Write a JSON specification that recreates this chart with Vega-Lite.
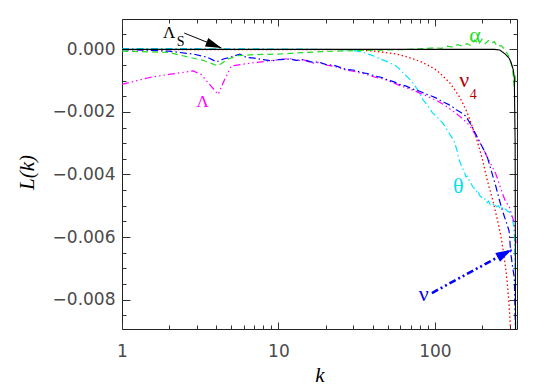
{
  "$schema": "https://vega.github.io/schema/vega-lite/v6.json",
  "width": 395,
  "height": 310,
  "autosize": {"type": "none"},
  "padding": {"left": 122, "top": 19, "right": 28, "bottom": 60},
  "background": "white",
  "config": {
    "view": {"stroke": "#222", "strokeWidth": 1},
    "axis": {
      "domain": false,
      "grid": false,
      "labelFont": "DejaVu Sans",
      "labelFontSize": 17,
      "labelColor": "#4a4a4a",
      "tickColor": "#333",
      "tickWidth": 1,
      "labelFlush": false,
      "labelOverlap": false,
      "labelBound": false,
      "titleFont": "Liberation Serif",
      "titleFontStyle": "italic",
      "titleFontWeight": "normal",
      "titleFontSize": 21,
      "titleColor": "#000"
    }
  },
  "data": {
    "values": [
      {"s": "red", "k": 1, "L": -0.00001}, {"s": "red", "k": 30, "L": -0.00001}, {"s": "red", "k": 40, "L": -0.00005},
      {"s": "red", "k": 48, "L": -0.0001}, {"s": "red", "k": 56.5, "L": -0.00015}, {"s": "red", "k": 64, "L": -0.00022},
      {"s": "red", "k": 72, "L": -0.0003}, {"s": "red", "k": 82, "L": -0.0004}, {"s": "red", "k": 92, "L": -0.00053},
      {"s": "red", "k": 100, "L": -0.00063}, {"s": "red", "k": 106.6, "L": -0.00074}, {"s": "red", "k": 115, "L": -0.0009},
      {"s": "red", "k": 124, "L": -0.00106}, {"s": "red", "k": 133, "L": -0.00127}, {"s": "red", "k": 143, "L": -0.0015},
      {"s": "red", "k": 150, "L": -0.0017}, {"s": "red", "k": 158, "L": -0.00193}, {"s": "red", "k": 164, "L": -0.00213},
      {"s": "red", "k": 170, "L": -0.00235}, {"s": "red", "k": 183, "L": -0.0028}, {"s": "red", "k": 192, "L": -0.00315},
      {"s": "red", "k": 202, "L": -0.00354}, {"s": "red", "k": 212, "L": -0.004}, {"s": "red", "k": 222, "L": -0.0044},
      {"s": "red", "k": 234, "L": -0.0048}, {"s": "red", "k": 246, "L": -0.00526}, {"s": "red", "k": 255, "L": -0.0056},
      {"s": "red", "k": 265, "L": -0.006}, {"s": "red", "k": 275, "L": -0.0065}, {"s": "red", "k": 285, "L": -0.00709},
      {"s": "red", "k": 292, "L": -0.0076}, {"s": "red", "k": 298, "L": -0.00816}, {"s": "red", "k": 302, "L": -0.0086},
      {"s": "red", "k": 306, "L": -0.0092},

      {"s": "cyan", "k": 1, "L": 0.00002}, {"s": "cyan", "k": 3, "L": 0.00002}, {"s": "cyan", "k": 10, "L": 0.00001},
      {"s": "cyan", "k": 20, "L": 0}, {"s": "cyan", "k": 28, "L": -0.00002}, {"s": "cyan", "k": 31.5, "L": -0.00005},
      {"s": "cyan", "k": 35, "L": -0.0001}, {"s": "cyan", "k": 38, "L": -0.00016}, {"s": "cyan", "k": 41, "L": -0.00022},
      {"s": "cyan", "k": 44.4, "L": -0.0003}, {"s": "cyan", "k": 50, "L": -0.0004}, {"s": "cyan", "k": 56.5, "L": -0.00053},
      {"s": "cyan", "k": 60, "L": -0.00065}, {"s": "cyan", "k": 64, "L": -0.0008}, {"s": "cyan", "k": 68, "L": -0.00092},
      {"s": "cyan", "k": 72, "L": -0.00106}, {"s": "cyan", "k": 78, "L": -0.0013}, {"s": "cyan", "k": 83.6, "L": -0.0016},
      {"s": "cyan", "k": 90, "L": -0.0018}, {"s": "cyan", "k": 96.6, "L": -0.00203}, {"s": "cyan", "k": 105, "L": -0.0022},
      {"s": "cyan", "k": 112, "L": -0.00235}, {"s": "cyan", "k": 118, "L": -0.00252}, {"s": "cyan", "k": 124, "L": -0.0027},
      {"s": "cyan", "k": 132, "L": -0.0029}, {"s": "cyan", "k": 138, "L": -0.0032}, {"s": "cyan", "k": 143, "L": -0.00354},
      {"s": "cyan", "k": 150, "L": -0.0038}, {"s": "cyan", "k": 154, "L": -0.0039}, {"s": "cyan", "k": 158, "L": -0.00408},
      {"s": "cyan", "k": 162, "L": -0.00405}, {"s": "cyan", "k": 166, "L": -0.0042}, {"s": "cyan", "k": 170, "L": -0.00428},
      {"s": "cyan", "k": 175, "L": -0.0044}, {"s": "cyan", "k": 180, "L": -0.00445}, {"s": "cyan", "k": 184, "L": -0.00455},
      {"s": "cyan", "k": 188, "L": -0.0045}, {"s": "cyan", "k": 193, "L": -0.00467}, {"s": "cyan", "k": 198, "L": -0.00472},
      {"s": "cyan", "k": 203, "L": -0.0048}, {"s": "cyan", "k": 209, "L": -0.00478}, {"s": "cyan", "k": 215, "L": -0.0049},
      {"s": "cyan", "k": 220, "L": -0.00485}, {"s": "cyan", "k": 226, "L": -0.00497}, {"s": "cyan", "k": 233, "L": -0.005},
      {"s": "cyan", "k": 240, "L": -0.00492}, {"s": "cyan", "k": 247, "L": -0.00503}, {"s": "cyan", "k": 255, "L": -0.005},
      {"s": "cyan", "k": 262, "L": -0.0051}, {"s": "cyan", "k": 268, "L": -0.00505}, {"s": "cyan", "k": 275, "L": -0.00513},
      {"s": "cyan", "k": 283, "L": -0.0051}, {"s": "cyan", "k": 292, "L": -0.00518}, {"s": "cyan", "k": 300, "L": -0.0052},
      {"s": "cyan", "k": 306, "L": -0.0053}, {"s": "cyan", "k": 311, "L": -0.00537}, {"s": "cyan", "k": 318, "L": -0.0056},
      {"s": "cyan", "k": 322, "L": -0.0059}, {"s": "cyan", "k": 326, "L": -0.007}, {"s": "cyan", "k": 329, "L": -0.0095},

      {"s": "mag", "k": 1, "L": -0.00112}, {"s": "mag", "k": 1.5, "L": -0.0009}, {"s": "mag", "k": 2, "L": -0.0008},
      {"s": "mag", "k": 2.85, "L": -0.00069}, {"s": "mag", "k": 3.2, "L": -0.0008}, {"s": "mag", "k": 3.6, "L": -0.0011},
      {"s": "mag", "k": 4.12, "L": -0.00144}, {"s": "mag", "k": 4.5, "L": -0.001}, {"s": "mag", "k": 5.0, "L": -0.00053},
      {"s": "mag", "k": 6, "L": -0.00047}, {"s": "mag", "k": 7.2, "L": -0.00042}, {"s": "mag", "k": 9, "L": -0.00036},
      {"s": "mag", "k": 11.8, "L": -0.00029}, {"s": "mag", "k": 13, "L": -0.00036}, {"s": "mag", "k": 14.5, "L": -0.00034},
      {"s": "mag", "k": 16.6, "L": -0.00044}, {"s": "mag", "k": 18, "L": -0.00042}, {"s": "mag", "k": 20, "L": -0.0005},
      {"s": "mag", "k": 23, "L": -0.00055}, {"s": "mag", "k": 27, "L": -0.00066}, {"s": "mag", "k": 30, "L": -0.0007},
      {"s": "mag", "k": 35, "L": -0.00078}, {"s": "mag", "k": 38, "L": -0.00083}, {"s": "mag", "k": 42, "L": -0.0009},
      {"s": "mag", "k": 46, "L": -0.00094}, {"s": "mag", "k": 50, "L": -0.001}, {"s": "mag", "k": 55, "L": -0.00108},
      {"s": "mag", "k": 59.4, "L": -0.00115}, {"s": "mag", "k": 65, "L": -0.00122}, {"s": "mag", "k": 70, "L": -0.00128},
      {"s": "mag", "k": 75, "L": -0.00133}, {"s": "mag", "k": 80, "L": -0.0014}, {"s": "mag", "k": 85, "L": -0.00145},
      {"s": "mag", "k": 90, "L": -0.0015}, {"s": "mag", "k": 95, "L": -0.00157}, {"s": "mag", "k": 101.6, "L": -0.00162},
      {"s": "mag", "k": 108, "L": -0.0017}, {"s": "mag", "k": 115, "L": -0.00178}, {"s": "mag", "k": 122, "L": -0.00187},
      {"s": "mag", "k": 130, "L": -0.00197}, {"s": "mag", "k": 137, "L": -0.00205}, {"s": "mag", "k": 145, "L": -0.00215},
      {"s": "mag", "k": 152, "L": -0.00224}, {"s": "mag", "k": 158, "L": -0.00232}, {"s": "mag", "k": 164, "L": -0.0024},
      {"s": "mag", "k": 170, "L": -0.0025}, {"s": "mag", "k": 180, "L": -0.0027}, {"s": "mag", "k": 193, "L": -0.00297},
      {"s": "mag", "k": 205, "L": -0.0032}, {"s": "mag", "k": 216, "L": -0.00345}, {"s": "mag", "k": 230, "L": -0.0037},
      {"s": "mag", "k": 246, "L": -0.004}, {"s": "mag", "k": 258, "L": -0.0043}, {"s": "mag", "k": 270, "L": -0.0046},
      {"s": "mag", "k": 285, "L": -0.0049}, {"s": "mag", "k": 298, "L": -0.005}, {"s": "mag", "k": 310, "L": -0.0053},
      {"s": "mag", "k": 320, "L": -0.0055}, {"s": "mag", "k": 326, "L": -0.0058}, {"s": "mag", "k": 330, "L": -0.0062},

      {"s": "blue", "k": 1, "L": -0.00001}, {"s": "blue", "k": 1.5, "L": -0.00003}, {"s": "blue", "k": 2, "L": -0.00006},
      {"s": "blue", "k": 2.85, "L": -0.00015}, {"s": "blue", "k": 3.5, "L": -0.00025}, {"s": "blue", "k": 4.02, "L": -0.0004},
      {"s": "blue", "k": 4.5, "L": -0.0003}, {"s": "blue", "k": 4.89, "L": -0.00026}, {"s": "blue", "k": 5.66, "L": -0.00015},
      {"s": "blue", "k": 6.25, "L": -0.00026}, {"s": "blue", "k": 7, "L": -0.00028}, {"s": "blue", "k": 8, "L": -0.00033},
      {"s": "blue", "k": 9, "L": -0.00037}, {"s": "blue", "k": 10, "L": -0.00033}, {"s": "blue", "k": 11.8, "L": -0.00031},
      {"s": "blue", "k": 13, "L": -0.00035}, {"s": "blue", "k": 14.5, "L": -0.00033}, {"s": "blue", "k": 16.6, "L": -0.00042},
      {"s": "blue", "k": 18, "L": -0.0004}, {"s": "blue", "k": 20, "L": -0.00048}, {"s": "blue", "k": 23, "L": -0.00052},
      {"s": "blue", "k": 27, "L": -0.00064}, {"s": "blue", "k": 30, "L": -0.00066}, {"s": "blue", "k": 35, "L": -0.00075},
      {"s": "blue", "k": 38, "L": -0.00079}, {"s": "blue", "k": 42, "L": -0.00086}, {"s": "blue", "k": 46, "L": -0.0009},
      {"s": "blue", "k": 50, "L": -0.00098}, {"s": "blue", "k": 55, "L": -0.00104}, {"s": "blue", "k": 59.4, "L": -0.00112},
      {"s": "blue", "k": 65, "L": -0.00117}, {"s": "blue", "k": 70, "L": -0.00124}, {"s": "blue", "k": 75, "L": -0.0013},
      {"s": "blue", "k": 80, "L": -0.00134}, {"s": "blue", "k": 85, "L": -0.0014}, {"s": "blue", "k": 90, "L": -0.00145},
      {"s": "blue", "k": 95, "L": -0.00149}, {"s": "blue", "k": 101.6, "L": -0.00155}, {"s": "blue", "k": 108, "L": -0.00163},
      {"s": "blue", "k": 115, "L": -0.0017}, {"s": "blue", "k": 122, "L": -0.00176}, {"s": "blue", "k": 130, "L": -0.00184},
      {"s": "blue", "k": 137, "L": -0.00193}, {"s": "blue", "k": 145, "L": -0.002}, {"s": "blue", "k": 152, "L": -0.00207},
      {"s": "blue", "k": 158, "L": -0.00214}, {"s": "blue", "k": 164, "L": -0.00228}, {"s": "blue", "k": 170, "L": -0.0024},
      {"s": "blue", "k": 180, "L": -0.00265}, {"s": "blue", "k": 193, "L": -0.00295}, {"s": "blue", "k": 205, "L": -0.0032},
      {"s": "blue", "k": 216, "L": -0.00343}, {"s": "blue", "k": 230, "L": -0.0039}, {"s": "blue", "k": 246, "L": -0.0044},
      {"s": "blue", "k": 258, "L": -0.0048}, {"s": "blue", "k": 270, "L": -0.00515}, {"s": "blue", "k": 285, "L": -0.0055},
      {"s": "blue", "k": 298, "L": -0.0058}, {"s": "blue", "k": 306, "L": -0.00654}, {"s": "blue", "k": 315, "L": -0.007},
      {"s": "blue", "k": 322, "L": -0.0073}, {"s": "blue", "k": 326, "L": -0.0085}, {"s": "blue", "k": 330, "L": -0.0095},

      {"s": "green", "k": 1, "L": -0.00006}, {"s": "green", "k": 1.5, "L": -0.00008}, {"s": "green", "k": 2, "L": -0.0001},
      {"s": "green", "k": 2.72, "L": -0.00026}, {"s": "green", "k": 3.3, "L": -0.00035}, {"s": "green", "k": 4.1, "L": -0.00053},
      {"s": "green", "k": 4.77, "L": -0.00031}, {"s": "green", "k": 5.5, "L": -0.0002}, {"s": "green", "k": 7, "L": -0.00017},
      {"s": "green", "k": 10, "L": -0.00015}, {"s": "green", "k": 15, "L": -0.0001}, {"s": "green", "k": 20, "L": -0.00007},
      {"s": "green", "k": 30, "L": -0.00004}, {"s": "green", "k": 50, "L": -0.00002}, {"s": "green", "k": 70, "L": 0},
      {"s": "green", "k": 90, "L": 0.00003}, {"s": "green", "k": 100, "L": 0.00005}, {"s": "green", "k": 110, "L": 0.00003},
      {"s": "green", "k": 120, "L": 0.0001}, {"s": "green", "k": 130, "L": 0.00007}, {"s": "green", "k": 140, "L": 0.00015},
      {"s": "green", "k": 150, "L": 0.0001}, {"s": "green", "k": 160, "L": 0.00018}, {"s": "green", "k": 170, "L": 0.00012},
      {"s": "green", "k": 180, "L": 0.0003}, {"s": "green", "k": 190, "L": 0.00015}, {"s": "green", "k": 200, "L": 0.00032},
      {"s": "green", "k": 210, "L": 0.00018}, {"s": "green", "k": 220, "L": 0.00028}, {"s": "green", "k": 230, "L": 0.0002},
      {"s": "green", "k": 240, "L": 0.00025}, {"s": "green", "k": 250, "L": 0.0001}, {"s": "green", "k": 265, "L": 0.00012},
      {"s": "green", "k": 280, "L": 0}, {"s": "green", "k": 295, "L": -0.0002}, {"s": "green", "k": 305, "L": -0.0004},
      {"s": "green", "k": 313, "L": -0.0006}, {"s": "green", "k": 318, "L": -0.0009}, {"s": "green", "k": 322, "L": -0.0012},
      {"s": "green", "k": 326, "L": -0.0008}, {"s": "green", "k": 328, "L": -0.0011},

      {"s": "black", "k": 1, "L": 0}, {"s": "black", "k": 240, "L": 0}, {"s": "black", "k": 260, "L": -0.00002},
      {"s": "black", "k": 282, "L": -0.00015}, {"s": "black", "k": 300, "L": -0.0003}, {"s": "black", "k": 307, "L": -0.00042},
      {"s": "black", "k": 317, "L": -0.00065}, {"s": "black", "k": 322, "L": -0.0009}, {"s": "black", "k": 326, "L": -0.003},
      {"s": "black", "k": 328, "L": -0.0095}
    ]
  },
  "datasets": {
    "labels": [
      {"id": "LS", "kind": "upper", "t": "Λ", "k": 2.0, "L": 0.00052},
      {"id": "LS", "kind": "sub", "t": "S", "k": 2.37, "L": 0.00024},
      {"id": "alpha", "kind": "lower", "t": "α", "k": 180.3, "L": 0.00047},
      {"id": "nu4", "kind": "lower", "t": "ν", "k": 154, "L": -0.00098},
      {"id": "nu4", "kind": "sub", "t": "4", "k": 176, "L": -0.00146},
      {"id": "Lambda", "kind": "upper", "t": "Λ", "k": 3.283, "L": -0.00167},
      {"id": "theta", "kind": "lower", "t": "θ", "k": 140.9, "L": -0.00438},
      {"id": "nu", "kind": "lower", "t": "ν", "k": 85.0, "L": -0.00781}
    ],
    "arrows": [
      {"id": "LS", "k": 2.5, "L": 0.00052, "k2": 4.323, "L2": 0.000043},
      {"id": "nu", "k": 95.7, "L": -0.00779, "k2": 309.4, "L2": -0.006406}
    ]
  },
  "resolve": {"axis": {"x": "independent", "y": "independent"}},
  "layer": [
    {
      "transform": [{"filter": "datum.s == 'red'"}],
      "mark": {"type": "line", "clip": true, "color": "#ff0000", "strokeWidth": 1.3, "strokeDash": [1.5, 2.5]},
      "encoding": {
        "x": {"field": "k", "type": "quantitative", "scale": {"type": "log", "domain": [1, 335], "nice": false},
          "axis": {"orient": "bottom", "title": "k",
            "values": [1, 2, 3, 4, 5, 6, 7, 8, 9, 10, 20, 30, 40, 50, 60, 70, 80, 90, 100, 200, 300],
            "labelExpr": "(datum.value == 1 || datum.value == 10 || datum.value == 100) ? format(datum.value, 'd') : ''",
            "tickSize": {"condition": {"test": "datum.value == 1 || datum.value == 10 || datum.value == 100", "value": -7}, "value": -4},
            "labelPadding": 21, "titleX": 197.5, "titleY": 46, "titleBaseline": "middle", "titleAlign": "center"}},
        "y": {"field": "L", "type": "quantitative", "scale": {"domain": [-0.00894, 0.00097], "nice": false, "zero": false},
          "axis": {"orient": "left", "title": "L(k)",
            "values": [-0.0085, -0.008, -0.0075, -0.007, -0.0065, -0.006, -0.0055, -0.005, -0.0045, -0.004, -0.0035, -0.003, -0.0025, -0.002, -0.0015, -0.001, -0.0005, 0, 0.0005],
            "labelExpr": "abs(round(datum.value * 2000)) % 4 == 0 ? format(datum.value, '.3f') : ''",
            "tickSize": {"condition": {"test": "abs(round(datum.value * 2000)) % 4 == 0", "value": -8}, "value": -4},
            "labelPadding": 15, "titleX": -95, "titleY": 153, "titleAngle": -90, "titleBaseline": "middle", "titleAlign": "center"}}
      }
    },
    {
      "transform": [{"filter": "datum.s == 'cyan'"}],
      "mark": {"type": "line", "clip": true, "color": "#00e5ff", "strokeWidth": 1.2, "strokeDash": [7, 3, 1.5, 3]},
      "encoding": {
        "x": {"field": "k", "type": "quantitative", "scale": {"type": "log", "domain": [1, 335], "nice": false}, "axis": null},
        "y": {"field": "L", "type": "quantitative", "scale": {"domain": [-0.00894, 0.00097], "nice": false, "zero": false}, "axis": null}
      }
    },
    {
      "transform": [{"filter": "datum.s == 'mag'"}],
      "mark": {"type": "line", "clip": true, "color": "#ff00ff", "strokeWidth": 1.2, "strokeDash": [7, 3, 1.5, 3, 1.5, 3, 1.5, 3]},
      "encoding": {
        "x": {"field": "k", "type": "quantitative", "scale": {"type": "log", "domain": [1, 335], "nice": false}, "axis": null},
        "y": {"field": "L", "type": "quantitative", "scale": {"domain": [-0.00894, 0.00097], "nice": false, "zero": false}, "axis": null}
      }
    },
    {
      "transform": [{"filter": "datum.s == 'blue'"}],
      "mark": {"type": "line", "clip": true, "color": "#0000ff", "strokeWidth": 1.2, "strokeDash": [7, 3, 1.5, 3]},
      "encoding": {
        "x": {"field": "k", "type": "quantitative", "scale": {"type": "log", "domain": [1, 335], "nice": false}, "axis": null},
        "y": {"field": "L", "type": "quantitative", "scale": {"domain": [-0.00894, 0.00097], "nice": false, "zero": false}, "axis": null}
      }
    },
    {
      "transform": [{"filter": "datum.s == 'green'"}],
      "mark": {"type": "line", "clip": true, "color": "#22dd22", "strokeWidth": 1.2, "strokeDash": [6, 4]},
      "encoding": {
        "x": {"field": "k", "type": "quantitative", "scale": {"type": "log", "domain": [1, 335], "nice": false}, "axis": null},
        "y": {"field": "L", "type": "quantitative", "scale": {"domain": [-0.00894, 0.00097], "nice": false, "zero": false}, "axis": null}
      }
    },
    {
      "transform": [{"filter": "datum.s == 'black'"}],
      "mark": {"type": "line", "clip": true, "color": "#000000", "strokeWidth": 1.1},
      "encoding": {
        "x": {"field": "k", "type": "quantitative", "scale": {"type": "log", "domain": [1, 335], "nice": false}, "axis": null},
        "y": {"field": "L", "type": "quantitative", "scale": {"domain": [-0.00894, 0.00097], "nice": false, "zero": false}, "axis": null}
      }
    },
    {
      "transform": [{"filter": "datum.s == 'black'"}],
      "mark": {"type": "point", "opacity": 0},
      "encoding": {
        "x": {"field": "k", "type": "quantitative", "scale": {"type": "log", "domain": [1, 335], "nice": false},
          "axis": {"orient": "top", "title": null, "labels": false,
            "values": [1, 2, 3, 4, 5, 6, 7, 8, 9, 10, 20, 30, 40, 50, 60, 70, 80, 90, 100, 200, 300],
            "tickSize": {"condition": {"test": "datum.value == 1 || datum.value == 10 || datum.value == 100", "value": -7}, "value": -4}}},
        "y": {"field": "L", "type": "quantitative", "scale": {"domain": [-0.00894, 0.00097], "nice": false, "zero": false},
          "axis": {"orient": "right", "title": null, "labels": false,
            "values": [-0.0085, -0.008, -0.0075, -0.007, -0.0065, -0.006, -0.0055, -0.005, -0.0045, -0.004, -0.0035, -0.003, -0.0025, -0.002, -0.0015, -0.001, -0.0005, 0, 0.0005],
            "tickSize": {"condition": {"test": "abs(round(datum.value * 2000)) % 4 == 0", "value": -8}, "value": -4}}}
      }
    },
    {
      "data": {"name": "arrows"},
      "transform": [{"filter": "datum.id == 'LS'"}],
      "mark": {"type": "rule", "color": "#000000", "strokeWidth": 1},
      "encoding": {
        "x": {"field": "k", "type": "quantitative", "scale": {"type": "log", "domain": [1, 335], "nice": false}, "axis": null},
        "y": {"field": "L", "type": "quantitative", "scale": {"domain": [-0.00894, 0.00097], "nice": false, "zero": false}, "axis": null},
        "x2": {"field": "k2"},
        "y2": {"field": "L2"}
      }
    },
    {
      "data": {"name": "arrows"},
      "transform": [{"filter": "datum.id == 'nu'"}],
      "mark": {"type": "rule", "color": "#0000ff", "strokeWidth": 2.6, "strokeDash": [7, 3, 2, 3, 2, 3]},
      "encoding": {
        "x": {"field": "k", "type": "quantitative", "scale": {"type": "log", "domain": [1, 335], "nice": false}, "axis": null},
        "y": {"field": "L", "type": "quantitative", "scale": {"domain": [-0.00894, 0.00097], "nice": false, "zero": false}, "axis": null},
        "x2": {"field": "k2"},
        "y2": {"field": "L2"}
      }
    },
    {
      "data": {"name": "arrows"},
      "transform": [{"filter": "datum.id == 'LS'"}],
      "mark": {"type": "point", "shape": "M0,0L-0.55,1.9L0.55,1.9Z", "filled": true, "opacity": 1, "color": "#000000", "size": 280, "angle": 111, "strokeWidth": 0},
      "encoding": {
        "x": {"field": "k2", "type": "quantitative", "scale": {"type": "log", "domain": [1, 335], "nice": false}, "axis": null},
        "y": {"field": "L2", "type": "quantitative", "scale": {"domain": [-0.00894, 0.00097], "nice": false, "zero": false}, "axis": null}
      }
    },
    {
      "data": {"name": "arrows"},
      "transform": [{"filter": "datum.id == 'nu'"}],
      "mark": {"type": "point", "shape": "M0,0L-0.6,1.9L0.6,1.9Z", "filled": true, "opacity": 1, "color": "#0000ff", "size": 280, "angle": 61.5, "strokeWidth": 0},
      "encoding": {
        "x": {"field": "k2", "type": "quantitative", "scale": {"type": "log", "domain": [1, 335], "nice": false}, "axis": null},
        "y": {"field": "L2", "type": "quantitative", "scale": {"domain": [-0.00894, 0.00097], "nice": false, "zero": false}, "axis": null}
      }
    },
    {
      "data": {"name": "labels"},
      "transform": [{"filter": "datum.kind == 'upper'"}],
      "mark": {"type": "text", "font": "Liberation Serif", "fontSize": 17, "align": "center", "baseline": "middle"},
      "encoding": {
        "x": {"field": "k", "type": "quantitative", "scale": {"type": "log", "domain": [1, 335], "nice": false}, "axis": null},
        "y": {"field": "L", "type": "quantitative", "scale": {"domain": [-0.00894, 0.00097], "nice": false, "zero": false}, "axis": null},
        "text": {"field": "t"},
        "color": {"field": "id", "type": "nominal", "legend": null,
          "scale": {"domain": ["LS", "alpha", "nu4", "Lambda", "theta", "nu"], "range": ["#000000", "#22dd22", "#b00000", "#ff00ff", "#00e0f0", "#0000ee"]}}
      }
    },
    {
      "data": {"name": "labels"},
      "transform": [{"filter": "datum.kind == 'lower'"}],
      "mark": {"type": "text", "font": "Liberation Serif", "fontSize": 22, "align": "center", "baseline": "middle"},
      "encoding": {
        "x": {"field": "k", "type": "quantitative", "scale": {"type": "log", "domain": [1, 335], "nice": false}, "axis": null},
        "y": {"field": "L", "type": "quantitative", "scale": {"domain": [-0.00894, 0.00097], "nice": false, "zero": false}, "axis": null},
        "text": {"field": "t"},
        "color": {"field": "id", "type": "nominal", "legend": null,
          "scale": {"domain": ["LS", "alpha", "nu4", "Lambda", "theta", "nu"], "range": ["#000000", "#22dd22", "#b00000", "#ff00ff", "#00e0f0", "#0000ee"]}}
      }
    },
    {
      "data": {"name": "labels"},
      "transform": [{"filter": "datum.kind == 'sub'"}],
      "mark": {"type": "text", "font": "Liberation Serif", "fontSize": 14, "align": "center", "baseline": "middle"},
      "encoding": {
        "x": {"field": "k", "type": "quantitative", "scale": {"type": "log", "domain": [1, 335], "nice": false}, "axis": null},
        "y": {"field": "L", "type": "quantitative", "scale": {"domain": [-0.00894, 0.00097], "nice": false, "zero": false}, "axis": null},
        "text": {"field": "t"},
        "color": {"field": "id", "type": "nominal", "legend": null,
          "scale": {"domain": ["LS", "alpha", "nu4", "Lambda", "theta", "nu"], "range": ["#000000", "#22dd22", "#b00000", "#ff00ff", "#00e0f0", "#0000ee"]}}
      }
    }
  ]
}
